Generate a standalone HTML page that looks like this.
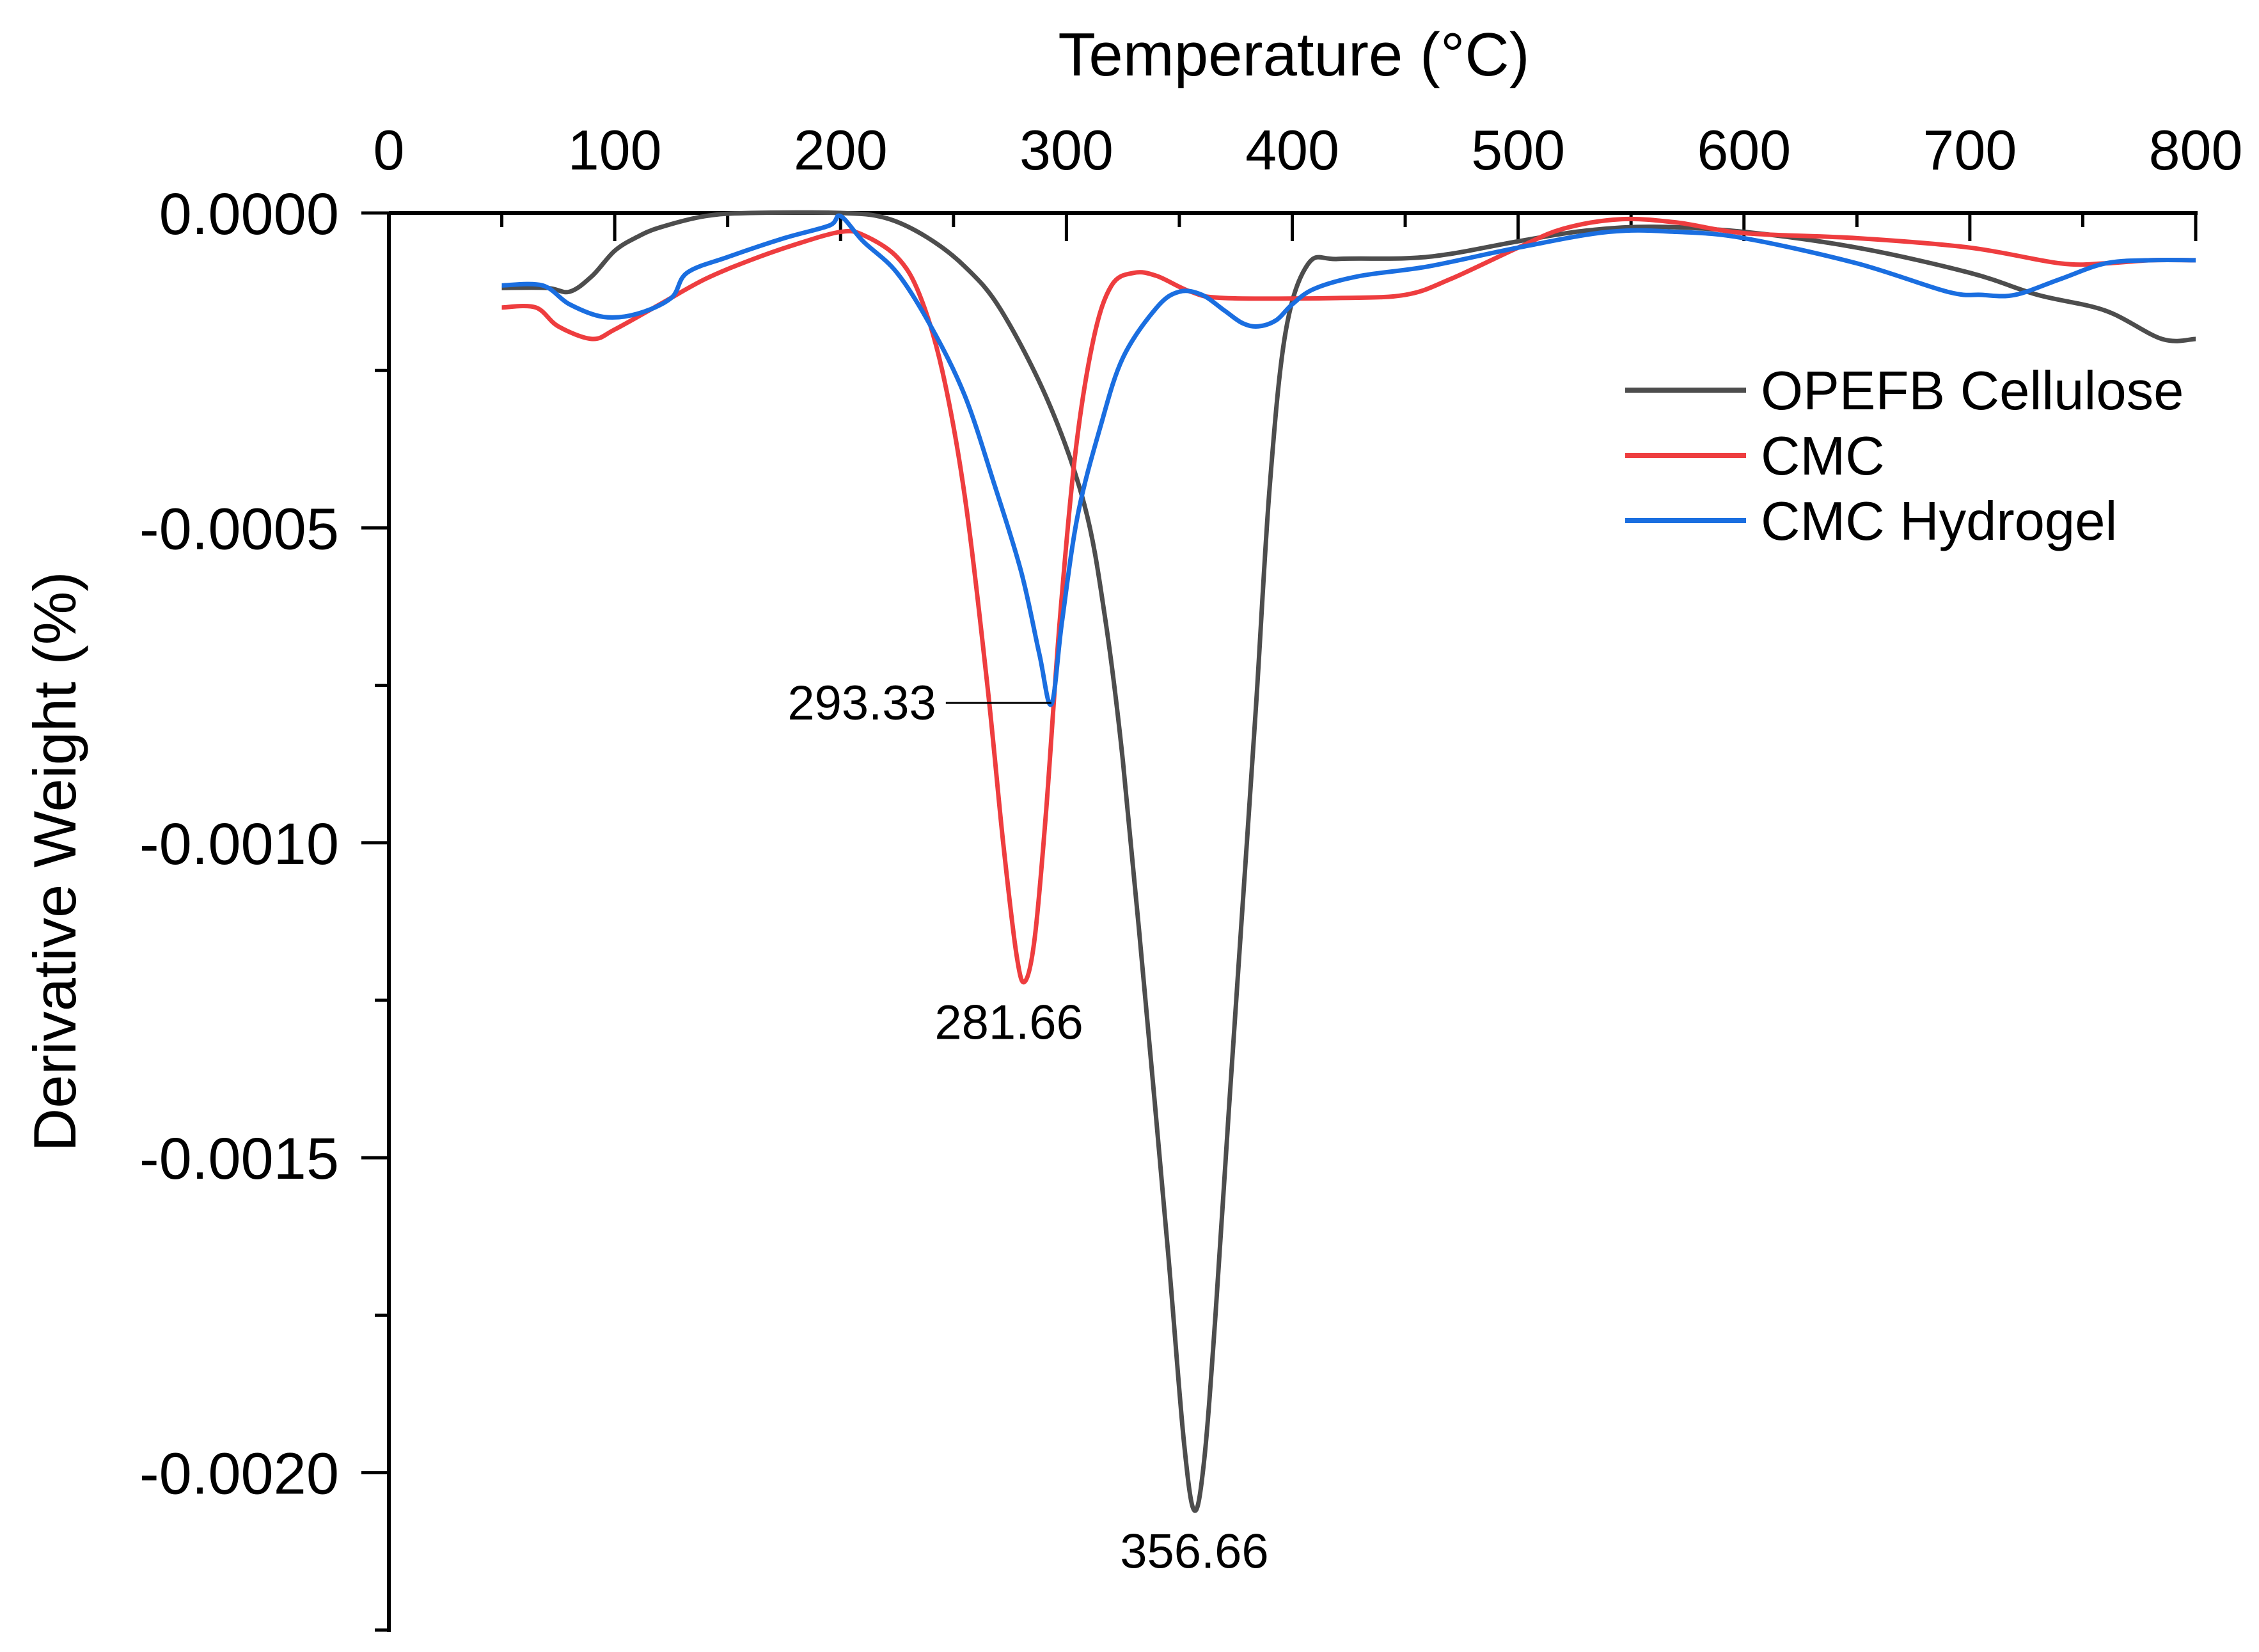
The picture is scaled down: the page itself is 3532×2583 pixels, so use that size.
<!DOCTYPE html>
<html><head><meta charset="utf-8"><style>
html,body{margin:0;padding:0;background:#fff}
svg{display:block;font-family:"Liberation Sans",Arial,sans-serif}
</style></head><body>
<svg id="chart" width="3532" height="2583" viewBox="0 0 3532 2583" xmlns="http://www.w3.org/2000/svg">
<g id="axes"></g>
<g id="series"></g>
<g id="legend"></g>
<g id="annot"></g>
</svg>
<script>
const xTicks = [0,100,200,300,400,500,600,700,800];
const yTicks = [0,-0.0005,-0.0010,-0.0015,-0.0020];
const yTickLabels = ["0.0000","-0.0005","-0.0010","-0.0015","-0.0020"];
const seriesNames = ["OPEFB Cellulose","CMC","CMC Hydrogel"];
const seriesColors = ["#4d4d4d","#ee3d3f","#1a6ee0"];
// values in units of 1e-4 %
const opefbT = [50,70,80,90,100,110,120,140,160,200,220,238,255,271,292,308,317,325,335,345,352,356.66,361,366,372,378,384,390,397,407,420,450,470,500,530,560,600,650,700,730,760,785,800];
const opefbV = [-1.19,-1.19,-1.25,-1.0,-0.6,-0.38,-0.23,-0.05,0,0,-0.08,-0.38,-0.85,-1.54,-3.0,-4.64,-6.4,-8.7,-12.5,-16.5,-19.5,-20.6,-19.8,-17.5,-14.2,-11.0,-7.8,-4.35,-1.9,-0.81,-0.73,-0.72,-0.65,-0.45,-0.28,-0.22,-0.3,-0.55,-0.95,-1.3,-1.55,-2.0,-2.0];
const cmcT = [50,65,75,90,100,120,140,160,180,200,210,225,235,245,255,265,272,278,281.66,286,291,297,304,312,320,330,340,355,370,420,450,470,500,520,545,570,600,650,700,740,760,780,800];
const cmcV = [-1.5,-1.5,-1.8,-2.0,-1.85,-1.45,-1.05,-0.75,-0.5,-0.3,-0.35,-0.7,-1.3,-2.5,-4.5,-7.5,-10,-11.8,-12.2,-11.5,-9.5,-6.5,-3.8,-2.0,-1.15,-0.95,-1.0,-1.25,-1.35,-1.35,-1.3,-1.05,-0.55,-0.25,-0.1,-0.15,-0.32,-0.4,-0.55,-0.8,-0.8,-0.75,-0.75];
const hydT = [50,68,80,95,110,125,132,150,175,195,200,210,225,240,255,268,280,288,293.33,298,305,315,325,340,350,360,370,378,385,393,400,410,430,460,500,540,570,600,650,690,705,720,740,760,780,800];
const hydV = [-1.15,-1.15,-1.45,-1.65,-1.6,-1.35,-0.95,-0.7,-0.4,-0.2,-0.05,-0.45,-0.95,-1.8,-2.9,-4.3,-5.7,-7.0,-7.8,-6.5,-4.8,-3.4,-2.3,-1.5,-1.25,-1.3,-1.55,-1.75,-1.8,-1.7,-1.45,-1.2,-1.0,-0.85,-0.55,-0.3,-0.3,-0.4,-0.8,-1.25,-1.3,-1.3,-1.05,-0.8,-0.75,-0.75];
const peakT = [356.66,281.66,293.33];
const peakV = [-20.6,-12.2,-7.8];
const peakLabels = ["356.66","281.66","293.33"];

const NS="http://www.w3.org/2000/svg";
const X0=608,X1=3433,Y0=333,YB=2552;
const sx=t=>X0+(t/800)*(X1-X0);
const sy=v=>Y0-(v/0.0005)*492.4;
const sy4=v=>sy(v*1e-4);
function mk(tag,attrs,parent,text){const e=document.createElementNS(NS,tag);for(const k in attrs)e.setAttribute(k,attrs[k]);if(text!==undefined)e.textContent=text;parent.appendChild(e);return e;}
const axes=document.getElementById('axes');
let a=mk('line',{x1:X0,y1:Y0,x2:X1+3,y2:Y0,stroke:'#000','stroke-width':6},axes);

a=mk('line',{x1:X0,y1:Y0,x2:X0,y2:YB,stroke:'#000','stroke-width':6},axes);

for(let t=0;t<=800;t+=50){const maj=t%100===0;const l=mk('line',{x1:sx(t),y1:Y0,x2:sx(t),y2:Y0+(maj?44:22),stroke:'#000','stroke-width':5},axes);
}
xTicks.forEach(t=>{const e=mk('text',{x:sx(t),y:265,'font-size':88,'text-anchor':'middle'},axes,String(t));
});
for(let i=0;i<=9;i++){const v=-0.00025*i;const y=sy(v);if(y>YB)break;const maj=i%2===0;
const l=mk('line',{x1:X0,y1:y,x2:X0-(maj?43:22),y2:y,stroke:'#000','stroke-width':5},axes);
}
yTicks.forEach((v,i)=>{const e=mk('text',{x:530,y:sy(v)+33,'font-size':92,'text-anchor':'end'},axes,yTickLabels[i]);
});
let tt=mk('text',{x:2023,y:118,'font-size':96,'text-anchor':'middle'},axes,'Temperature (°C)');

tt=mk('text',{x:0,y:0,'font-size':94,'text-anchor':'middle',transform:'translate(118,1347) rotate(-90)'},axes,'Derivative Weight (%)');


function pathFrom(T,V){const p=T.map((t,i)=>[sx(t),sy4(V[i])]);let d='M'+p[0][0]+','+p[0][1];
for(let i=0;i<p.length-1;i++){const p0=p[i-1]||p[i],p1=p[i],p2=p[i+1],p3=p[i+2]||p2;
const c1=[p1[0]+(p2[0]-p0[0])/6,p1[1]+(p2[1]-p0[1])/6],c2=[p2[0]-(p3[0]-p1[0])/6,p2[1]-(p3[1]-p1[1])/6];
d+=` C${c1[0]},${c1[1]} ${c2[0]},${c2[1]} ${p2[0]},${p2[1]}`;}return d;}
const ser=document.getElementById('series');
const data=[[opefbT,opefbV],[cmcT,cmcV],[hydT,hydV]];
const snames=['series-opefb-cellulose','series-cmc','series-cmc-hydrogel'];
data.forEach((s,i)=>{const e=mk('path',{d:pathFrom(s[0],s[1]),fill:'none',stroke:seriesColors[i],'stroke-width':7,'stroke-linejoin':'round'},ser);
});
const leg=document.getElementById('legend');
seriesNames.forEach((n,i)=>{const y=610+i*102;
const l=mk('line',{x1:2541,y1:y,x2:2730,y2:y,stroke:seriesColors[i],'stroke-width':8},leg);

const t=mk('text',{x:2753,y:y+30,'font-size':85},leg,n);
});
const an=document.getElementById('annot');
let e=mk('text',{x:sx(peakT[0]),y:sy4(peakV[0])+90,'font-size':76,'text-anchor':'middle'},an,peakLabels[0]);

e=mk('text',{x:sx(peakT[1])-25,y:sy4(peakV[1])+90,'font-size':76,'text-anchor':'middle'},an,peakLabels[1]);

e=mk('line',{x1:sx(peakT[2])-165,y1:sy4(peakV[2])-2,x2:sx(peakT[2]),y2:sy4(peakV[2])-2,stroke:'#000','stroke-width':3},an);

e=mk('text',{x:sx(peakT[2])-180,y:sy4(peakV[2])+24,'font-size':76,'text-anchor':'end'},an,peakLabels[2]);

</script>
</body></html>
